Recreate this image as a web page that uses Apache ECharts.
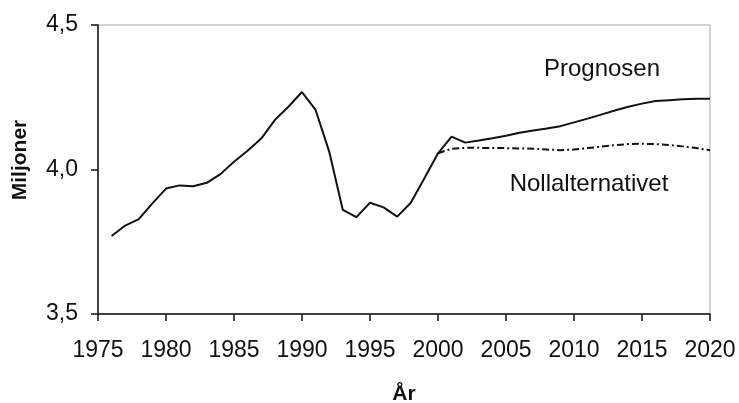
<!DOCTYPE html>
<html>
<head>
<meta charset="utf-8">
<script src="https://cdn.jsdelivr.net/npm/echarts@6/dist/echarts.min.js"></script>
<style>
html,body{margin:0;padding:0;background:#fff;}
#chart{width:739px;height:403px;}
</style>
</head>
<body>
<div id="chart"></div>
<script>
const years = [1976,1977,1978,1979,1980,1981,1982,1983,1984,1985,1986,1987,1988,1989,1990,
  1991,1992,1993,1994,1995,1996,1997,1998,1999,2000,2001,2002,2003,2004,2005,2006,2007,2008,2009,2010,
  2011,2012,2013,2014,2015,2016,2017,2018,2019,2020];
const prognosen = [3.770,3.806,3.828,3.883,3.934,3.945,3.942,3.954,3.984,4.027,4.065,4.107,4.171,4.217,4.268,
  4.206,4.062,3.860,3.835,3.885,3.869,3.837,3.885,3.970,4.056,4.114,4.093,4.100,4.108,4.117,4.127,4.135,4.142,4.150,4.163,
  4.176,4.190,4.204,4.217,4.228,4.237,4.240,4.243,4.245,4.245];
const nollYears = [2000,2001,2002,2003,2004,2005,2006,2007,2008,2009,2010,2011,2012,2013,2014,2015,2016,2017,2018,2019,2020];
const nollalternativet = [4.056,4.072,4.075,4.075,4.074,4.074,4.073,4.072,4.069,4.067,4.069,4.074,4.079,4.084,4.088,4.089,4.088,4.085,4.080,4.074,4.067];
const xTicks = [1975,1980,1985,1990,1995,2000,2005,2010,2015,2020];
const yTicks = [3.5,4.0,4.5];
const labelPrognosen = 'Prognosen';
const labelNoll = 'Nollalternativet';
const yTitle = 'Miljoner';
const xTitle = 'År';

const chart = echarts.init(document.getElementById('chart'), null, {renderer:'canvas'});
const font = 'Liberation Sans, Arial, Helvetica, sans-serif';
chart.setOption({
  animation: false,
  backgroundColor: '#fff',
  grid: {left: 98, right: 29, top: 25, bottom: 89, containLabel: false, outerBoundsMode: 'none',
    show: true, borderColor: '#a8a8a8', borderWidth: 1, backgroundColor: 'transparent'},
  xAxis: {
    type: 'value', min: xTicks[0], max: xTicks[xTicks.length-1], interval: 5,
    name: xTitle, nameLocation: 'middle', nameGap: 70,
    nameTextStyle: {fontFamily: font, fontSize: 21, fontWeight: 'bold', color: '#111'},
    axisLine: {show: true, lineStyle: {color: '#111', width: 1.5}},
    axisTick: {show: true, length: 7, lineStyle: {color: '#111', width: 1.5}},
    axisLabel: {fontFamily: font, fontSize: 23, color: '#111', margin: 25, formatter: v => String(v)},
    splitLine: {show: false}
  },
  yAxis: {
    type: 'value', min: yTicks[0], max: yTicks[yTicks.length-1], interval: 0.5,
    axisLine: {show: true, lineStyle: {color: '#111', width: 1.5}},
    axisTick: {show: true, length: 7, lineStyle: {color: '#111', width: 1.5}},
    axisLabel: {fontFamily: font, fontSize: 23, color: '#111', margin: 20, formatter: v => v.toFixed(1).replace('.', ',')},
    splitLine: {show: false}
  },
  series: [
    {
      name: labelPrognosen, type: 'line', showSymbol: false, symbol: 'none',
      data: years.map((y, i) => [y, prognosen[i]]),
      lineStyle: {color: '#111', width: 2}, z: 3
    },
    {
      name: labelNoll, type: 'line', showSymbol: false, symbol: 'none',
      data: nollYears.map((y, i) => [y, nollalternativet[i]]),
      lineStyle: {color: '#111', width: 2, type: [7, 3, 2, 3]}, z: 2
    }
  ],
  graphic: [
    {type: 'text', x: 20, y: 160, rotation: Math.PI / 2, style: {text: yTitle, font: 'bold 21px ' + font, fill: '#111', align: 'center', verticalAlign: 'middle'}},
    {type: 'text', x: 602, y: 69, style: {text: labelPrognosen, font: '24px ' + font, fill: '#111', align: 'center', verticalAlign: 'middle'}},
    {type: 'text', x: 589, y: 184, style: {text: labelNoll, font: '24px ' + font, fill: '#111', align: 'center', verticalAlign: 'middle'}}
  ]
});
</script>
</body>
</html>
